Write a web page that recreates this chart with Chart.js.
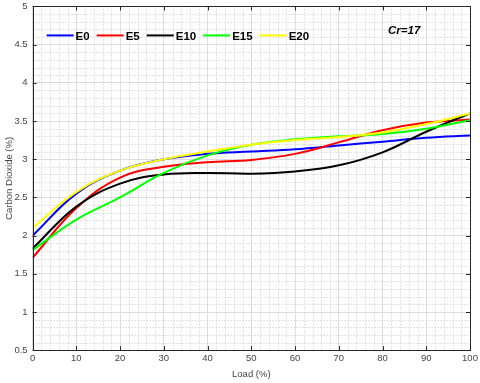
<!DOCTYPE html>
<html>
<head>
<meta charset="utf-8">
<script src="https://cdn.jsdelivr.net/npm/chart.js@4/dist/chart.umd.min.js"></script>
<style>
  html, body { margin: 0; padding: 0; background: #fff; }
  #wrap { width: 480px; height: 383px; }
</style>
</head>
<body>
<div id="wrap"><canvas id="grafico"></canvas></div>
<script>
// dados
const carga = [0, 10, 20, 30, 40, 50, 60, 70, 80, 90, 100];
const e0  = [2.00, 2.55, 2.85, 3.00, 3.07, 3.10, 3.13, 3.18, 3.23, 3.28, 3.31];
const e5  = [1.71, 2.36, 2.76, 2.90, 2.96, 2.99, 3.07, 3.22, 3.38, 3.48, 3.52];
const e10 = [1.83, 2.38, 2.68, 2.80, 2.82, 2.81, 2.84, 2.92, 3.09, 3.36, 3.60];
const e15 = [1.81, 2.21, 2.50, 2.82, 3.05, 3.19, 3.26, 3.30, 3.33, 3.40, 3.51];
const e20 = [2.10, 2.57, 2.85, 3.00, 3.10, 3.19, 3.25, 3.29, 3.35, 3.46, 3.60];
const nomes = ['E0', 'E5', 'E10', 'E15', 'E20'];
const cores = ['#0000ff', '#ff0000', '#000000', '#00ff00', '#ffff00'];
const series = [e0, e5, e10, e15, e20];

const FONTE = '"Liberation Sans", Arial, sans-serif';

// grade menor pontilhada, moldura, ticks internos, legenda e texto Cr=17
const estiloMatlab = {
  id: 'estiloMatlab',
  beforeDatasetsDraw(chart) {
    const ctx = chart.ctx;
    const a = chart.chartArea;
    const sx = chart.scales.x, sy = chart.scales.y;
    ctx.save();
    ctx.strokeStyle = '#c8c8c8';
    ctx.lineWidth = 1;
    ctx.setLineDash([1, 2]);
    for (let v = 0; v <= 100; v += 2) {
      if (v % 10 === 0) continue;
      const px = Math.round(sx.getPixelForValue(v)) + 0.5;
      ctx.beginPath(); ctx.moveTo(px, a.top); ctx.lineTo(px, a.bottom); ctx.stroke();
    }
    for (let i = 5; i <= 50; i++) {
      if (i % 5 === 0) continue;
      const py = Math.round(sy.getPixelForValue(i / 10)) + 0.5;
      ctx.beginPath(); ctx.moveTo(a.left, py); ctx.lineTo(a.right, py); ctx.stroke();
    }
    ctx.restore();
  },
  afterDraw(chart) {
    const ctx = chart.ctx;
    const a = chart.chartArea;
    const sx = chart.scales.x, sy = chart.scales.y;
    ctx.save();
    ctx.strokeStyle = '#262626';
    ctx.lineWidth = 1;
    ctx.strokeRect(Math.round(a.left) + 0.5, Math.round(a.top) + 0.5,
      Math.round(a.right - a.left), Math.round(a.bottom - a.top));
    // ticks para dentro
    for (let v = 0; v <= 100; v += 10) {
      const px = Math.round(sx.getPixelForValue(v)) + 0.5;
      ctx.beginPath();
      ctx.moveTo(px, a.bottom); ctx.lineTo(px, a.bottom - 4);
      ctx.moveTo(px, a.top); ctx.lineTo(px, a.top + 4);
      ctx.stroke();
    }
    for (let i = 1; i <= 10; i++) {
      const py = Math.round(sy.getPixelForValue(i / 2)) + 0.5;
      ctx.beginPath();
      ctx.moveTo(a.left, py); ctx.lineTo(a.left + 4, py);
      ctx.moveTo(a.right, py); ctx.lineTo(a.right - 4, py);
      ctx.stroke();
    }
    // legenda horizontal dentro do gráfico
    let x = a.left + 14;
    const y = a.top + 29;
    ctx.font = 'bold 11.5px ' + FONTE;
    ctx.textBaseline = 'middle';
    nomes.forEach((nome, i) => {
      ctx.strokeStyle = cores[i];
      ctx.lineWidth = 2;
      ctx.beginPath(); ctx.moveTo(x, y); ctx.lineTo(x + 27, y); ctx.stroke();
      x += 29;
      ctx.fillStyle = '#000';
      ctx.fillText(nome, x, y + 1);
      x += ctx.measureText(nome).width + 7;
    });
    ctx.font = 'italic bold 11.5px ' + FONTE;
    ctx.fillText('Cr=17', 388, 31);
    ctx.restore();
  }
};

const ctx = document.getElementById('grafico').getContext('2d');
const myChart = new Chart(ctx, {
  type: 'line',
  data: {
    datasets: nomes.map((nome, i) => ({
      label: nome,
      data: carga.map((c, j) => ({ x: c, y: series[i][j] })),
      borderColor: cores[i],
      backgroundColor: cores[i],
      borderWidth: 2,
      pointRadius: 0,
      tension: 0.4,
      fill: false,
      order: nomes.length - i
    }))
  },
  options: {
    responsive: true,
    maintainAspectRatio: false,
    animation: false,
    layout: { autoPadding: false, padding: { left: 1, right: 10, top: 6, bottom: 2 } },
    plugins: {
      legend: { display: false },
      tooltip: { enabled: false }
    },
    scales: {
      x: {
        type: 'linear',
        min: 0,
        max: 100,
        ticks: { stepSize: 10, color: '#444', font: { family: FONTE, size: 9.5 }, padding: 2, maxRotation: 0 },
        grid: { color: '#dedede', drawTicks: false },
        border: { display: false },
        title: { display: true, text: 'Load (%)', color: '#444', font: { family: FONTE, size: 9.5 }, padding: { top: 3, bottom: 1 } }
      },
      y: {
        min: 0.5,
        max: 5,
        ticks: { stepSize: 0.5, color: '#444', font: { family: FONTE, size: 9.5, lineHeight: 0.3 }, padding: 5, callback: v => String(+v.toFixed(1)) },
        grid: { color: '#dedede', drawTicks: false },
        border: { display: false },
        title: { display: true, text: 'Carbon Dioxide (%)', color: '#444', font: { family: FONTE, size: 9.5 }, padding: { top: 3, bottom: -6 } }
      }
    }
  },
  plugins: [estiloMatlab]
});
</script>
</body>
</html>
